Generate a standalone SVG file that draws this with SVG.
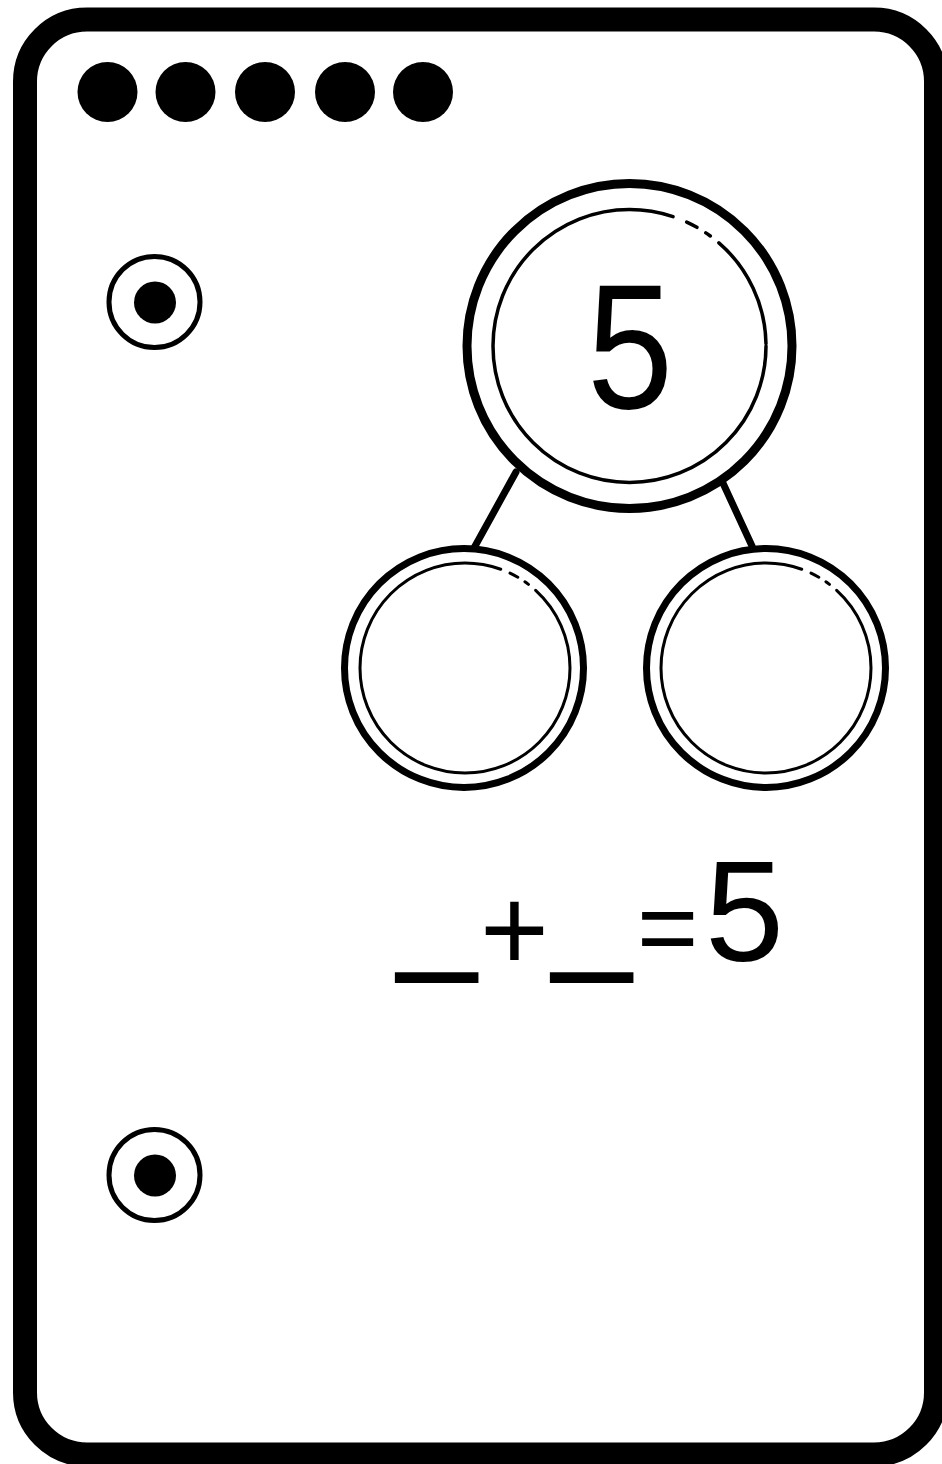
<svg xmlns="http://www.w3.org/2000/svg" width="942" height="1464" viewBox="0 0 942 1464">
<style>
.dot{fill:#000}
.ring{fill:#fff;stroke:#000}
.inner{fill:none;stroke:#000;stroke-linecap:round}
.conn{stroke:#000;stroke-width:7;stroke-linecap:round;fill:none}
.eq{font-family:"Liberation Sans",Arial,sans-serif;fill:#000}
.blank{stroke:#000;stroke-width:2}
</style>
<rect x="0" y="0" width="942" height="1464" fill="#fff"/>
<g id="card">
<rect x="25" y="19.5" width="911" height="1435" rx="62" ry="62" fill="#fff" stroke="#000" stroke-width="24"/>
</g>
<g id="dots">
<circle class="dot" cx="107.5" cy="92" r="30"/>
<circle class="dot" cx="185.5" cy="92" r="30"/>
<circle class="dot" cx="265" cy="92" r="30"/>
<circle class="dot" cx="345" cy="92" r="30"/>
<circle class="dot" cx="423" cy="92" r="30"/>
</g>
<g id="target-top">
<circle cx="154.5" cy="302" r="45.5" fill="none" stroke="#000" stroke-width="5"/>
<circle class="dot" cx="155" cy="302.5" r="21"/>
</g>
<g id="target-bottom">
<circle cx="154.5" cy="1175" r="45.5" fill="none" stroke="#000" stroke-width="5"/>
<circle class="dot" cx="155" cy="1175.5" r="21"/>
</g>
<g id="connectors">
<line class="conn" x1="516" y1="472" x2="474" y2="548"/>
<line class="conn" x1="722" y1="481" x2="752" y2="546"/>
</g>
<g id="whole">
<circle class="ring" cx="629.5" cy="346" r="162.5" stroke-width="9"/>
<circle class="inner" cx="629.5" cy="346" r="136.5" stroke-width="3.5" pathLength="360" stroke-dasharray="288.6 6.2 4.8 4.4 2.3 4.6 48.1 1"/>
<text class="eq" transform="translate(630,408) scale(0.87,1)" x="0" y="0" text-anchor="middle" font-size="178">5</text>
</g>
<g id="part-left">
<circle class="ring" cx="464" cy="668" r="119.5" stroke-width="7"/>
<circle class="inner" cx="465" cy="668" r="105" stroke-width="3" pathLength="360" stroke-dasharray="289.9 5.5 4.8 4.6 2.4 5.1 47.7 0"/>
</g>
<g id="part-right">
<circle class="ring" cx="766" cy="668" r="119.5" stroke-width="7"/>
<circle class="inner" cx="766" cy="668" r="105" stroke-width="3" pathLength="360" stroke-dasharray="289.9 5.5 4.8 4.6 2.4 5.1 47.7 0"/>
</g>
<g id="equation">
<text class="eq blank" x="398" y="954" font-size="140">_</text>
<text class="eq" x="480" y="969.5" font-size="118">+</text>
<text class="eq blank" x="553" y="954" font-size="140">_</text>
<text class="eq" x="637" y="964" font-size="105">=</text>
<text class="eq" x="705" y="961" font-size="142">5</text>
</g>
</svg>
